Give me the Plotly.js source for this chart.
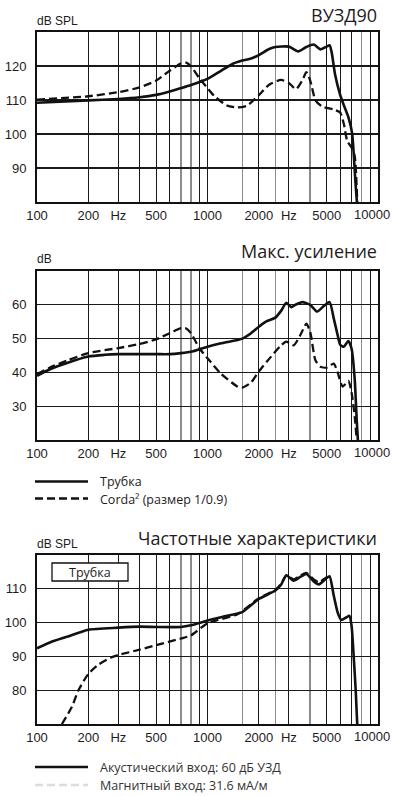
<!DOCTYPE html>
<html>
<head>
<meta charset="utf-8">
<script src="https://cdn.plot.ly/plotly-3.0.1.min.js"></script>
<style>
html,body{margin:0;padding:0;background:#fff;}
#chart{width:393px;height:796px;}
</style>
</head>
<body>
<div id="chart"></div>
<script>
// ---------- DATA ----------
// Chart 1: ВУЗД90 (dB SPL)
const c1TubeFreq = [100,200,300,400,500,600,700,800,1000,1200,1400,1600,1800,2000,2300,2500,3000,3400,3800,4200,4600,5000,5200,5350,5600,6000,6300,6700,7050,7370,7600];
const c1TubeDb   = [109.2,109.9,110.3,110.8,111.5,112.5,113.5,114.4,116.2,118.6,120.6,121.6,122.2,123.2,125.0,125.6,125.7,124.3,125.6,126.3,124.9,125.7,126.1,124.0,117.5,111.5,108.5,105.0,100.2,86.0,77.0];
const c1CordaFreq = [100,200,300,400,500,600,700,750,800,900,1000,1100,1300,1500,1700,2000,2300,2700,3000,3300,3600,3800,4000,4300,4700,5500,6000,6300,6600,7000,7300,7600];
const c1CordaDb   = [110.1,111.1,112.3,113.7,115.7,118.6,120.8,121.0,119.9,116.3,113.5,111.1,108.4,107.8,108.3,111.4,114.5,115.9,115.0,113.2,115.8,118.2,115.8,109.9,108.1,107.2,106.3,103.0,98.0,96.0,93.5,76.0];

// Chart 2: Макс. усиление (dB)
const c2TubeFreq = [100,120,150,200,250,300,500,600,700,800,1000,1200,1500,1600,1800,2000,2200,2500,2700,2900,3100,3300,3600,4000,4400,4800,5200,5500,5800,6000,6300,6700,7000,7300,7500,7700];
const c2TubeDb   = [39.0,41.0,42.8,44.7,45.2,45.4,45.4,45.4,45.7,46.1,47.6,48.6,49.6,50.0,51.6,53.5,55.0,56.2,58.2,60.6,59.3,60.1,60.8,60.0,58.0,59.6,60.8,56.0,51.0,48.2,47.6,49.3,47.0,38.0,26.0,16.0];
const c2CordaFreq = [100,120,150,200,300,400,500,600,700,750,800,900,1000,1200,1500,1600,1800,2000,2300,2700,2900,3200,3500,3800,4000,4300,4600,5000,5500,5800,6200,6700,7000,7300,7600];
const c2CordaDb   = [39.5,41.5,43.5,45.7,47.2,48.4,49.8,51.6,53.1,53.0,51.6,47.0,44.2,39.6,35.8,35.5,37.0,40.3,44.0,48.0,49.1,48.0,51.0,54.4,52.0,43.5,41.7,41.4,42.6,40.0,35.8,37.5,34.0,27.0,16.0];

// Chart 3: Частотные характеристики (dB SPL)
const c3AcFreq = [100,120,150,200,300,400,500,700,800,1000,1200,1500,1600,2000,2500,2700,2900,3200,3500,3800,4200,4500,5000,5200,5500,5800,6100,6500,6800,7000,7200,7400,7600];
const c3AcDb   = [92.4,94.2,95.8,97.9,98.5,98.8,98.7,98.7,99.2,100.6,101.6,102.7,103.1,107.0,109.5,111.2,114.0,112.4,113.5,114.4,112.2,111.3,113.2,113.7,108.0,103.0,100.8,101.5,102.0,99.0,90.0,80.0,67.0];
const c3MagFreq = [140,160,175,200,230,270,300,400,500,700,800,1000,1500,2000,2500,2700,2900,3200,3500,3800,4200,4500,5000,5200];
const c3MagDb   = [70.0,75.0,80.0,84.8,87.6,89.6,90.4,92.0,93.3,95.3,96.2,99.8,102.5,107.2,109.7,111.4,113.9,112.8,113.9,114.7,112.8,112.0,113.4,113.8];

// Axis ticks (the last label, "10000", is placed as an annotation so it stays inside the page)
const xMajorVals = [100,200,300,400,500,600,900,1000,2000,3000,5000,6000,7000,9000,10000];
const xMajorText = ['100','200','Hz','','500','','','1000','2000','Hz','5000','','','',''];
const xLastLabel = '10000';
const xMinorVals = [700,800,1600,2500,4000,8000];
const y1Ticks = [90,100,110,120];
const y2Ticks = [30,40,50,60];
const y3Ticks = [80,90,100,110];

// ---------- LAYOUT HELPERS ----------
const W = 393, H = 796;
const px = x => x / W;
const py = y => 1 - y / H;
const INK = '#1f1b1c';
const tickFont = {family: '"Liberation Sans Narrow", "Arial Narrow", "Liberation Sans", Arial, sans-serif', size: 13, color: INK};
const textFont = {family: '"Open Sans", "Noto Sans", sans-serif', color: INK};

function xAxis(anchor) {
  return {
    type: 'log', range: [2, 4], domain: [px(37), px(378)], anchor: anchor,
    tickmode: 'array', tickvals: xMajorVals, ticktext: xMajorText,
    showgrid: true, gridcolor: '#1a1a1a', gridwidth: 1.2,
    minor: {tickmode: 'array', tickvals: xMinorVals, showgrid: true, gridcolor: '#8c8c8c', gridwidth: 1.3, ticks: ''},
    showline: true, linecolor: '#111', linewidth: 2, mirror: true,
    ticks: '', tickfont: tickFont, ticklabelstandoff: 0, ticklabeloverflow: 'allow',
    zeroline: false, fixedrange: true
  };
}
function yAxis(anchor, dom, range, ticks) {
  return {
    range: range, domain: dom, anchor: anchor,
    tickmode: 'array', tickvals: ticks,
    showgrid: true, gridcolor: '#1a1a1a', gridwidth: 1.3,
    showline: true, linecolor: '#111', linewidth: 2, mirror: true,
    ticks: '', tickfont: tickFont, ticklabelstandoff: 6, zeroline: false, fixedrange: true
  };
}

const solid = {color: '#111', width: 2.6, shape: 'spline', smoothing: 0.6};
const dashed = {color: '#111', width: 2.3, dash: '8px,4px', shape: 'spline', smoothing: 0.6};

const traces = [
  {x: c1CordaFreq, y: c1CordaDb, xaxis: 'x', yaxis: 'y', mode: 'lines', line: dashed, name: 'Corda²', showlegend: false},
  {x: c1TubeFreq, y: c1TubeDb, xaxis: 'x', yaxis: 'y', mode: 'lines', line: solid, name: 'Трубка', showlegend: false},
  {x: c2CordaFreq, y: c2CordaDb, xaxis: 'x2', yaxis: 'y2', mode: 'lines', line: dashed, name: 'Corda²', showlegend: false},
  {x: c2TubeFreq, y: c2TubeDb, xaxis: 'x2', yaxis: 'y2', mode: 'lines', line: solid, name: 'Трубка', showlegend: false},
  {x: c3MagFreq, y: c3MagDb, xaxis: 'x3', yaxis: 'y3', mode: 'lines', line: dashed, name: 'Магнитный вход', showlegend: false},
  {x: c3AcFreq, y: c3AcDb, xaxis: 'x3', yaxis: 'y3', mode: 'lines', line: solid, name: 'Акустический вход', showlegend: false}
];

function ann(text, x, y, size, xanchor, extra) {
  return Object.assign({text: text, x: px(x), y: py(y), xref: 'paper', yref: 'paper',
    xanchor: xanchor, yanchor: 'middle', showarrow: false,
    font: Object.assign({}, textFont, {size: size})}, extra || {});
}
function lbl(text, x, y, size, xanchor) {
  return {text: text, x: px(x), y: py(y), xref: 'paper', yref: 'paper', xanchor: xanchor || 'left', yanchor: 'middle',
    showarrow: false, font: Object.assign({}, tickFont, {size: size || 12})};
}

const annotations = [
  ann('ВУЗД90', 379, 15, 18, 'right'),
  lbl('dB SPL', 35, 21),
  ann('Макс. усиление', 379, 251, 18, 'right'),
  lbl('dB', 35, 259),
  ann('Частотные характеристики', 379, 538, 18, 'right'),
  lbl('dB SPL', 35, 544),
  lbl(xLastLabel, 392, 214.5, 13, 'right'),
  lbl(xLastLabel, 392, 452.5, 13, 'right'),
  lbl(xLastLabel, 392, 736.5, 13, 'right'),
  ann('Трубка', 90, 572, 12.5, 'center'),
  ann('Трубка', 98, 481, 12.5, 'left'),
  ann('Corda² (размер 1/0.9)', 98, 499, 12.5, 'left'),
  ann('Акустический вход: 60 дБ УЗД', 98, 767, 12.5, 'left', {font: Object.assign({}, textFont, {size: 12.5, color: '#333'})}),
  ann('Магнитный вход: 31.6 мА/м', 98, 785, 12.5, 'left', {font: Object.assign({}, textFont, {size: 12.5, color: '#333'})})
];

const shapes = [
  {type: 'rect', xref: 'paper', yref: 'paper', x0: px(52), x1: px(128), y0: py(581), y1: py(563),
   line: {color: '#111', width: 1.3}, fillcolor: '#fff', layer: 'above'},
  {type: 'line', xref: 'paper', yref: 'paper', x0: px(35), x1: px(88), y0: py(481.5), y1: py(481.5), line: {color: '#111', width: 2.6}},
  {type: 'line', xref: 'paper', yref: 'paper', x0: px(35), x1: px(88), y0: py(498.5), y1: py(498.5), line: {color: '#111', width: 2.3, dash: '8px,4px'}},
  {type: 'line', xref: 'paper', yref: 'paper', x0: px(35), x1: px(88), y0: py(767), y1: py(767), line: {color: '#111', width: 2.6}},
  {type: 'line', xref: 'paper', yref: 'paper', x0: px(35), x1: px(88), y0: py(785), y1: py(785), line: {color: '#dcdcdc', width: 2.3, dash: '8px,4px'}}
];

const layout = {
  width: W, height: H, margin: {l: 0, r: 0, t: 0, b: 0},
  paper_bgcolor: '#fff', plot_bgcolor: '#fff', showlegend: false,
  xaxis: xAxis('y'), yaxis: yAxis('x', [py(202), py(32)], [80, 130], y1Ticks),
  xaxis2: xAxis('y2'), yaxis2: yAxis('x2', [py(440), py(271)], [20, 70], y2Ticks),
  xaxis3: xAxis('y3'), yaxis3: yAxis('x3', [py(724), py(555)], [70, 120], y3Ticks),
  annotations: annotations, shapes: shapes
};

Plotly.newPlot('chart', traces, layout, {displayModeBar: false, staticPlot: true});
</script>
</body>
</html>
